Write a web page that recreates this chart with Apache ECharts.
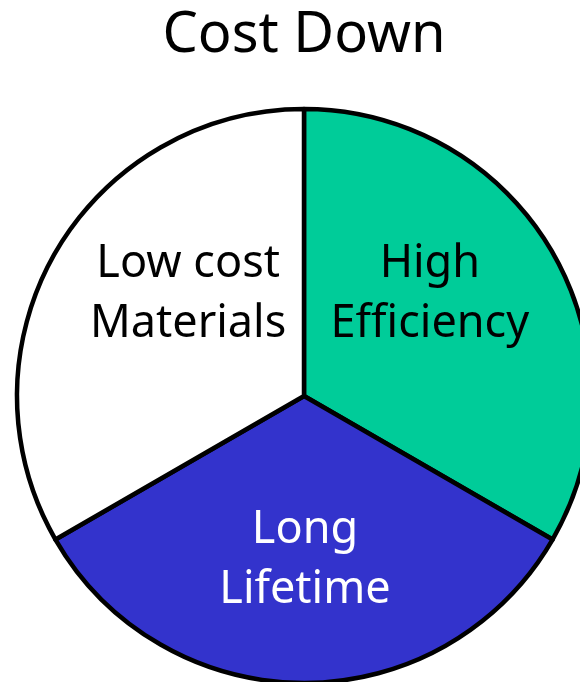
<!DOCTYPE html>
<html>
<head>
<meta charset="utf-8">
<script src="https://cdn.jsdelivr.net/npm/echarts@6/dist/echarts.min.js"></script>
<style>
  html, body { margin: 0; padding: 0; background: #ffffff; }
  #chart { width: 580px; height: 682px; }
</style>
</head>
<body>
<div id="chart"></div>
<script>
// Three equal factors behind the cost reduction, clockwise from the top.
const titleText = 'Cost Down';
const categories = ['High\nEfficiency', 'Long\nLifetime', 'Low cost\nMaterials'];
const shares = [1, 1, 1];

// Presentation per slice (fill, label colour, label nudge).
const sliceFills = ['#00cc99', '#3333cc', '#ffffff'];
const labelColors = ['#000000', '#ffffff', '#000000'];
const labelOffsets = [[-1, -29], [1, 18], [11, -29]];

const FONT = '"Noto Sans", "Liberation Sans", sans-serif';

const chart = echarts.init(document.getElementById('chart'), null, { renderer: 'canvas' });

chart.setOption({
  backgroundColor: '#ffffff',
  animation: false,
  title: {
    text: titleText,
    left: 299,
    top: 3,
    textAlign: 'center',
    textStyle: {
      fontFamily: FONT,
      fontSize: 56,
      fontWeight: 'normal',
      color: '#000000'
    }
  },
  series: [{
    type: 'pie',
    center: [304, 396],
    radius: 287,
    startAngle: 90,
    clockwise: true,
    silent: true,
    itemStyle: {
      borderColor: '#000000',
      borderWidth: 4.5
    },
    label: {
      show: true,
      position: 'inside',
      fontFamily: FONT,
      fontSize: 45,
      lineHeight: 60,
      align: 'center'
    },
    labelLine: { show: false },
    data: categories.map((name, i) => ({
      name: name,
      value: shares[i],
      itemStyle: { color: sliceFills[i] },
      label: {
        color: labelColors[i],
        offset: labelOffsets[i],
        formatter: '{b}'
      }
    }))
  }]
});
</script>
</body>
</html>
